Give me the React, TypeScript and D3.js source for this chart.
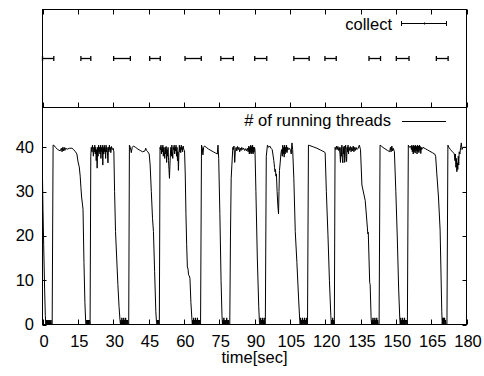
import React from "react";
import * as d3 from "d3";

const W = 484;
const H = 376;

const xTicks = [0, 15, 30, 45, 60, 75, 90, 105, 120, 135, 150, 165, 180];
const yTicks = [0, 10, 20, 30, 40];

const collectStart = [0, 16.3, 30.2, 45.5, 60.5, 75.7, 90.1, 106.7, 119.9, 138.6, 150.2, 167.2];
const collectEnd = [4.8, 20.5, 37.3, 50, 67.4, 81, 95.2, 113.2, 124.7, 143.5, 155.6, 172.2];

const threadTime: number[] = [];
const threadCount: number[] = [];
const threadPairs: number[][] = [
  [0,33],[0.2,26],[0.5,18],[0.9,8],[1.2,2],[1.4,0],[1.6,1],[1.8,0],[2.0,1],[2.2,0],[2.4,1],[2.6,0],[2.8,1],[3.0,0],[3.2,1],[3.4,0],[3.6,1],[3.8,0],[4.1,0],
  [4.5,40.5],
  [4.8,40.5],[5.5,40],[6.5,39.5],[7.5,39.2],[8,39.8],[8.3,39],[8.6,40],[8.9,39.2],[9.2,40],[9.5,39.3],[9.8,39.8],[10.5,39.6],[11.5,39.8],[12.5,39.8],[13.2,39.5],[14,39],[14.6,38.5],[15.1,36.7],[15.6,35.6],[16,33.5],[16.3,31],[16.6,28.8],[17,27],[17.2,26],[17.6,14],[18,5],[18.3,1],[18.5,0],[18.7,1],[18.9,0],[19.1,1],[19.3,0],[19.5,1],[19.7,0],[19.9,1],[20.2,0],
  [20.5,38],[20.7,40],
  [21,39],[21.2,40.5],[21.4,39.5],[21.6,38],[21.8,40],[22,39],[22.2,40.5],[22.4,38.5],[22.6,40],[22.8,37],[23,39.5],[23.2,35.3],[23.4,40],[23.6,38],[23.8,40.5],[24,39],[24.2,40],[24.4,38.5],[24.6,40.5],[24.8,37.5],[25,40],[25.2,39],[25.4,40.5],[25.6,36],[25.8,40],[26,38.5],[26.2,40.5],[26.4,39],[26.6,40],[26.8,37.5],[27,40.5],[27.2,39],[27.4,40],[27.6,38.5],[27.8,36.5],[28,40],[28.2,39],[28.4,40.5],[28.6,39.5],[28.8,40],[29,38.8],[29.3,40.2],[29.6,39.5],[30,39.8],[30.3,39],
  [30.6,30],[31,21],[31.5,15],[32,9],[32.5,4],[32.9,1],[33.1,0],[33.3,1],[33.5,0],[33.7,1.5],[33.9,0],[34.1,1],[34.3,0],[34.5,1.5],[34.7,0],[34.9,1],[35.1,0],[35.3,1.5],[35.5,0],[35.7,1],[35.9,0],[36.1,1],[36.3,0],[36.6,0],
  [36.9,40.5],
  [37.3,40],[37.7,38.8],[38.1,40],[38.6,40.3],[39.5,40],[40.5,39.6],[41.5,39.3],[42.5,39],[43.5,39.2],[43.8,39.8],[44.2,39.3],[44.7,39],[45.3,38.5],
  [45.7,36],[46.2,30],[46.7,24],[47.1,21],[47.6,12],[48.1,3],[48.4,0.5],[48.6,0],[48.8,1],[49,0],[49.2,1],[49.4,0],[49.6,0],
  [49.9,40],
  [50.1,39.5],[50.3,40.5],[50.5,38.5],[50.7,40],[50.9,39],[51.1,40.5],[51.3,38],[51.5,40],[51.7,39],[51.9,37.5],[52.1,40],[52.3,38.5],[52.5,40.2],[52.7,36.6],[52.9,39.5],[53.1,38],[53.3,40],[53.5,37],[53.7,35],[53.9,33],[54.1,36],[54.3,38.5],[54.5,40],[54.7,38],[54.9,40.5],[55.1,39],[55.3,37.5],[55.5,40],[55.7,39.5],[55.9,40.5],[56.1,38.5],[56.3,40],[56.5,39.2],[56.7,40.5],[56.9,38],[57.1,40],[57.3,37],[57.5,39],[57.7,34.8],[57.9,38.5],[58.1,40.5],[58.3,39],[58.5,40],[58.7,38.8],[58.9,40.5],[59.1,39.5],[59.3,40],[59.5,39],[59.7,40.3],[60,39.5],[60.3,39.3],
  [60.6,34],[60.9,25],[61.2,18],[61.5,13],[61.8,12.5],[62,11.2],[62.3,11],[62.6,10.4],[63,5],[63.4,1.5],[63.6,0],[63.8,1],[64,0],[64.2,1.5],[64.4,0],[64.6,1],[64.8,0],[65,1.5],[65.2,0],[65.4,1],[65.6,0],[65.8,1.5],[66,0],[66.2,1],[66.4,0],[66.6,1],[66.8,0],[67.1,0],
  [67.5,40.5],
  [67.8,40],[68.1,38.3],[68.4,40],[68.8,40.3],[69.5,40],[70.5,39.6],[71.5,39.3],[72.5,39],[73.5,38.7],[74.2,38.5],[74.5,40.5],[74.8,37.5],
  [75.3,25],[75.8,10],[76.2,2],[76.4,0],[76.6,1],[76.8,0],[77,1.5],[77.2,0],[77.4,1],[77.6,0],[77.8,1],[78,0],[78.2,1.5],[78.4,0],[78.6,1],[78.8,0],[79,1],[79.2,0],[79.5,0],
  [79.8,20],[80.1,33],[80.4,36],[80.8,40],
  [81,39.5],[81.3,40.3],[81.6,36.6],[81.9,39.5],[82.2,40],[82.5,39.2],[82.8,40.2],[83.1,39.5],[83.4,40],[83.7,39],[84,39.8],[84.3,39.3],[84.6,40],[85,39.5],[85.4,39.8],[85.8,39.3],[86.2,39.7],[86.6,39.2],[87,39.8],[87.3,39],[87.6,40.3],[87.8,38.5],[88,40],[88.2,38.8],[88.4,40.5],[88.6,38.5],[88.8,40.2],[89,38.8],[89.2,40.5],[89.4,38.5],[89.6,40],[89.8,38.9],[90,40],[90.2,39.5],
  [90.6,30],[91.2,15],[91.8,4],[92.1,0.5],[92.3,0],[92.5,1.5],[92.7,0],[92.9,1],[93.1,0],[93.3,1.5],[93.5,0],[93.7,1],[93.9,0],[94.1,1.5],[94.3,0],[94.6,0],
  [95,38],[95.5,40.5],
  [96,40],[96.5,40.3],[97,39.8],[97.5,39.5],[97.8,38.5],[98.2,37],[98.5,35.5],[98.7,34.5],[98.9,35],[99.1,33.5],[99.3,34],[99.6,30],[99.9,27],[100.2,25],[100.4,30],[100.6,34.8],[100.9,36.5],[101.2,38.5],[101.5,39.5],[101.8,38],[102,40.5],[102.2,38.5],[102.4,40],[102.6,37.8],[102.8,40.5],[103,38.5],[103.2,40],[103.4,39],[103.6,40.5],[103.8,38.8],[104.1,40],[104.5,39.5],[104.9,39.8],[105.3,39.3],[105.6,38.5],[105.9,41],[106.2,39.5],
  [106.7,33],[107.3,21],[108,14],[108.7,6],[109.2,1],[109.4,0],[109.6,1.5],[109.8,0],[110,1],[110.2,0],[110.4,1.5],[110.6,0],[110.8,1],[111,0],[111.2,1.5],[111.4,0],[111.6,1],[111.8,0],[112,1.5],[112.2,0],[112.5,0],
  [112.9,40.5],
  [113.5,40.4],[115,40.1],[116.5,39.8],[118,39.4],[119.5,39],[120,38.8],
  [120.5,30],[121.2,20],[121.8,10],[122.4,2],[122.6,0],[122.8,1],[123,0],[123.2,1.5],[123.4,0],[123.6,1],[123.9,0],
  [124.2,40],
  [124.5,39.5],[124.8,40.3],[125.1,39.5],[125.4,40.2],[125.7,39.3],[126,40],[126.3,38.5],[126.5,36.6],[126.7,40],[126.9,38],[127.1,40.5],[127.3,37.5],[127.5,36.5],[127.7,40],[127.9,38.5],[128.1,40.3],[128.3,36.6],[128.5,39.5],[128.7,40.5],[128.9,38],[129.1,36.8],[129.3,40],[129.5,39],[129.7,40.5],[129.9,38.5],[130.1,40],[130.4,39.3],[130.7,40.2],[131,39],[131.3,40],[131.6,39.2],[131.9,40.3],[132.2,39],[132.5,40],[132.8,39.3],[133.1,40],[133.5,39.5],[134,39.8],[134.5,40.5],[135,39.5],
  [135.6,31.5],[137,28],[137.9,22],[138.1,20.5],[138.3,20.8],[138.9,9.5],[139.1,9],[139.5,1.5],[139.7,0],[139.9,1],[140.1,0],[140.3,1.5],[140.5,0],[140.7,1],[140.9,0],[141.1,1.5],[141.3,0],[141.5,1],[141.7,0],[141.9,1.5],[142.1,0],[142.3,1],[142.5,0],[142.9,0],
  [143.3,40.5],
  [143.8,40.3],[145,39.8],[146.5,39.3],[147.4,39],[147.7,40],[148,39],[148.3,40.3],[148.6,39.2],[148.9,39.8],[149.4,39],
  [150,30],[150.6,20],[151.2,8],[151.7,1],[151.9,0],[152.1,1.5],[152.3,0],[152.5,1],[152.7,0],[152.9,1.5],[153.1,0],[153.3,1],[153.5,0],[153.7,1.5],[153.9,0],[154.1,1],[154.3,0],[154.6,1],[154.9,0],
  [155.3,40.5],
  [155.8,40],[156.3,40.3],[156.6,39.5],[156.8,40.5],[157,39],[157.2,40.2],[157.4,38.5],[157.6,40.5],[157.8,39],[158,40.3],[158.2,38.7],[158.4,40.5],[158.6,39.2],[158.8,40.2],[159,38.5],[159.2,40.5],[159.4,39],[159.6,40.3],[159.8,38.8],[160,40.5],[160.2,39.3],[160.4,40.2],[160.6,38.6],[160.8,40],[161,39.5],[161.5,40],[162.5,39.7],[163.5,39.4],[164.5,39.1],[165.5,38.8],[166.5,38.5],[166.9,38],
  [167.4,34],[168.1,28.8],[168.8,21.3],[169.5,3],[169.7,0],[169.9,1.5],[170.1,0],[170.3,1.5],[170.5,0],[170.7,1.5],[170.9,0],[171.1,1],[171.3,0],[171.7,0],
  [172.1,40.5],
  [172.5,40],[173.2,39.5],[174,39],[174.8,38.6],[175.1,37],[175.3,38.5],[175.5,35.5],[175.7,37.5],[175.9,34.5],[176.1,36.5],[176.3,35],[176.5,38],[176.7,36],[176.9,39],[177.2,38.5],[177.5,40],[177.8,41],[178.1,39.5],[178.5,40],[179,40],[180,40]
];
threadPairs.forEach(([t, v]) => { threadTime.push(t); threadCount.push(v); });

const FONT = "'Liberation Sans', Arial, Helvetica, sans-serif";

export default function App() {
  const x = d3.scaleLinear().domain([0, 180]).range([42.5, 466.5]);
  const yTop = d3.scaleLinear().domain([0, 2]).range([107.5, 9.5]);
  const y = d3.scaleLinear().domain([0, 49]).range([324.5, 107.5]);

  const line = d3
    .line<number>()
    .x((_, i) => x(threadTime[i]))
    .y((d) => y(d));
  const path = line(threadCount) || "";

  const cy = yTop(1);
  const fs = 16.5;

  return (
    <svg
      width={W}
      height={H}
      viewBox={`0 0 ${W} ${H}`}
      style={{ position: "absolute", left: 0, top: 0, background: "#fff" }}
    >
      <rect x={0} y={0} width={W} height={H} fill="#fff" />
      {/* top panel ticks */}
      {xTicks.map((t) => (
        <g key={"tt" + t} stroke="#000" strokeWidth={1}>
          <line x1={Math.round(x(t)) + 0.5} x2={Math.round(x(t)) + 0.5} y1={yTop(2)} y2={yTop(2) + 5} />
          <line x1={Math.round(x(t)) + 0.5} x2={Math.round(x(t)) + 0.5} y1={yTop(0)} y2={yTop(0) - 5} />
          <line x1={Math.round(x(t)) + 0.5} x2={Math.round(x(t)) + 0.5} y1={y(0)} y2={y(0) - 5} />
        </g>
      ))}
      {/* y ticks bottom panel */}
      {yTicks.map((v) => (
        <g key={"yt" + v} stroke="#000" strokeWidth={1}>
          <line x1={x(0)} x2={x(0) + 4} y1={Math.round(y(v)) + 0.5} y2={Math.round(y(v)) + 0.5} />
          <line x1={x(180)} x2={x(180) - 4} y1={Math.round(y(v)) + 0.5} y2={Math.round(y(v)) + 0.5} />
        </g>
      ))}
      {/* collect intervals */}
      {collectStart.map((s, i) => (
        <g key={"c" + i} stroke="#000" strokeWidth={1.3}>
          <line x1={x(s)} x2={x(collectEnd[i])} y1={cy} y2={cy} />
          <line x1={x(s)} x2={x(s)} y1={cy - 2.5} y2={cy + 2.5} />
          <line x1={x(collectEnd[i])} x2={x(collectEnd[i])} y1={cy - 2.5} y2={cy + 2.5} />
        </g>
      ))}
      {/* collect legend */}
      <text x={392} y={30} fontFamily={FONT} fontSize={fs} textAnchor="end" fill="#000">
        collect
      </text>
      <g stroke="#000" strokeWidth={1}>
        <line x1={401.5} x2={446.5} y1={23.5} y2={23.5} />
        <line x1={401.5} x2={401.5} y1={21} y2={26} />
        <line x1={446.5} x2={446.5} y1={21} y2={26} />
        <line x1={424.5} x2={424.5} y1={22.5} y2={24.5} />
      </g>
      {/* thread line */}
      <path d={path} fill="none" stroke="#000" strokeWidth={1} strokeLinejoin="miter" />
      {/* thread legend */}
      <text x={391} y={126} fontFamily={FONT} fontSize={fs} textAnchor="end" fill="#000">
        # of running threads
      </text>
      <line x1={402} x2={446} y1={121.5} y2={121.5} stroke="#000" strokeWidth={1} />
      {/* frames */}
      <rect x={x(0)} y={yTop(2)} width={x(180) - x(0)} height={yTop(0) - yTop(2)} fill="none" stroke="#000" strokeWidth={1} />
      <rect x={x(0)} y={y(49)} width={x(180) - x(0)} height={y(0) - y(49)} fill="none" stroke="#000" strokeWidth={1} />
      {/* y labels */}
      {yTicks.map((v) => (
        <text key={"yl" + v} x={34} y={y(v) + 5.5} fontFamily={FONT} fontSize={fs} textAnchor="end" fill="#000">
          {v}
        </text>
      ))}
      {/* x labels */}
      {xTicks.map((t) => (
        <text key={"xl" + t} x={x(t) + 1.5} y={346.5} fontFamily={FONT} fontSize={fs} textAnchor="middle" fill="#000">
          {t}
        </text>
      ))}
      <text x={x(90)} y={363} fontFamily={FONT} fontSize={fs} textAnchor="middle" fill="#000">
        time[sec]
      </text>
    </svg>
  );
}
